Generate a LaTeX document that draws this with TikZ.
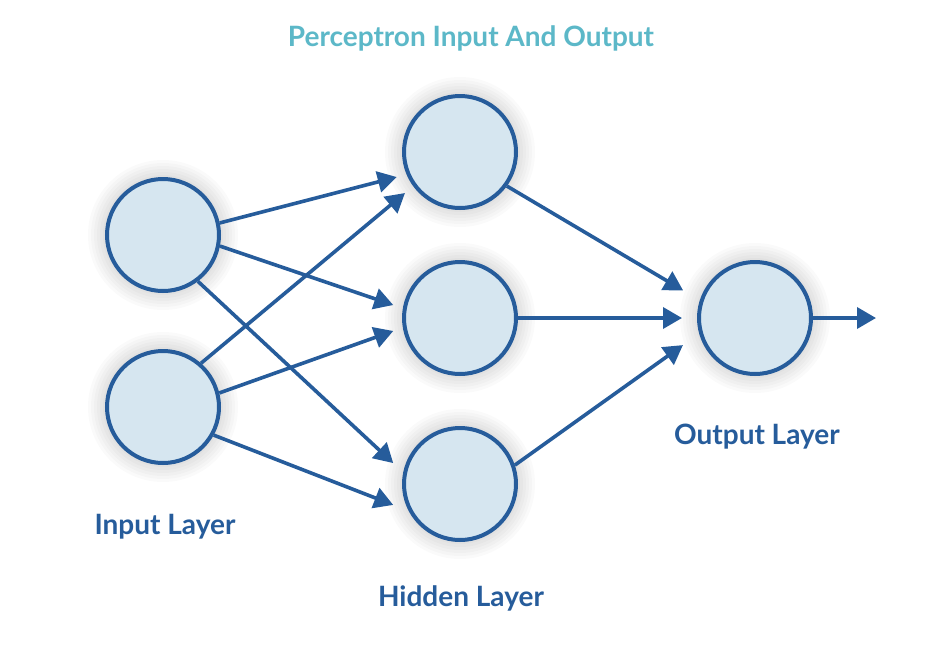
\documentclass[tikz,border=0pt]{standalone}
\usepackage{fontspec}
\setmainfont{Lato}[UprightFont=* Bold]
\usetikzlibrary{arrows.meta,calc,backgrounds}
\definecolor{edge}{HTML}{265C9B}
\definecolor{nfill}{HTML}{D6E6F0}
\definecolor{ttl}{HTML}{5CB8C8}
\tikzset{
  neuron/.style={circle, draw=edge, fill=nfill, line width=4pt, minimum size=112pt, inner sep=0pt},
  arr/.style={draw=edge, line width=3.6pt, -{Triangle[length=19pt,width=21pt]}},
  lbl/.style={text=edge, font=\fontsize{28}{32}\selectfont},
}
\begin{document}
\begin{tikzpicture}[x=1pt,y=-1pt]
\useasboundingbox (0,0) rectangle (948,646);
\node[neuron] (i1) at (163,235) {};
\node[neuron] (i2) at (163,407) {};
\node[neuron] (h1) at (460,152) {};
\node[neuron] (h2) at (460,318) {};
\node[neuron] (h3) at (460,484) {};
\node[neuron] (o) at (755,318) {};
\coordinate (out) at (876,318);
\begin{scope}[on background layer]
  \fill[white] (0,0) rectangle (948,646);
  \foreach \n in {i1,i2,h1,h2,h3,o}{
    \foreach \r in {60,63,66,69,72,75}{
      \fill[black, opacity=0.018] (\n) circle[radius=\r pt];
    }
  }
\end{scope}
\node[text=ttl, font=\fontsize{28}{32}\selectfont] (title) at (471,38) {Perceptron Input And Output};
\node[lbl] (li) at (165,527) {Input Layer};
\node[lbl] (lh) at (461,598) {Hidden Layer};
\node[lbl] (lo) at (757,437) {Output Layer};
\draw[arr] (i1.12.4) -- ($(h1)+(201.6:68pt)$);
\draw[arr] (i1.-11.5) -- ($(h2)+(169:68pt)$);
\draw[arr] (i1.-53.5) -- ($(h3)+(162.6:70pt)$);
\draw[arr] (i2.49) -- ($(h1)+(216.7:68.6pt)$);
\draw[arr] (i2.14) -- ($(h2)+(191:68pt)$);
\draw[arr] (i2.-29) -- ($(h3)+(197.4:70pt)$);
\draw[arr] (h1.-36.7) -- ($(o)+(159:77pt)$);
\draw[arr] (h2.east) -- ($(o)+(180:73pt)$);
\draw[arr] (h3.19) -- ($(o)+(200.6:77pt)$);
\draw[arr] (o.east) -- (out);
\end{tikzpicture}
\end{document}
